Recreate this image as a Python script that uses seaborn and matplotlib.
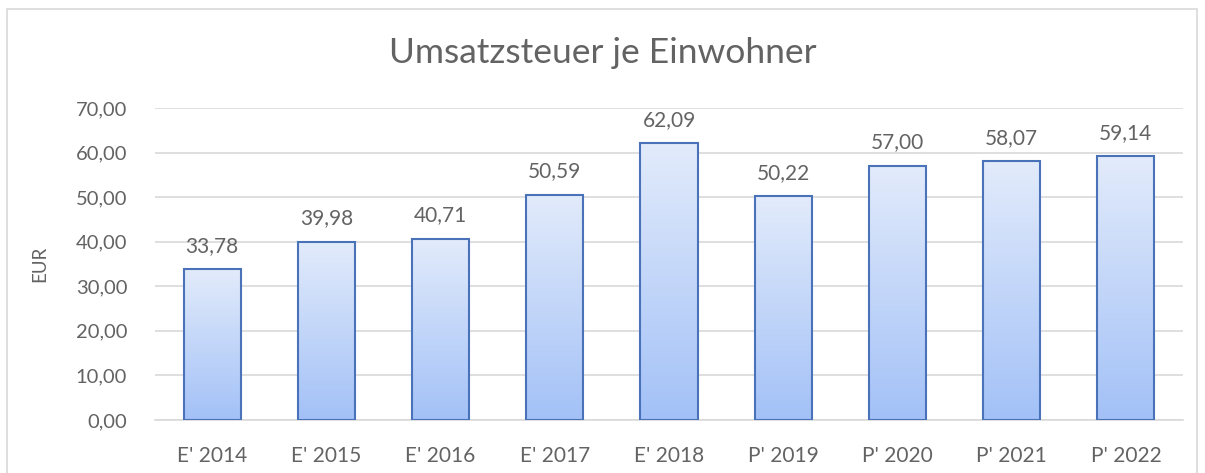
import numpy as np
import pandas as pd
import matplotlib
matplotlib.use("Agg")
import matplotlib.pyplot as plt
from matplotlib.patches import Rectangle
from matplotlib.colors import LinearSegmentedColormap
import seaborn as sns

years = ["E' 2014", "E' 2015", "E' 2016", "E' 2017", "E' 2018",
         "P' 2019", "P' 2020", "P' 2021", "P' 2022"]
values = [33.78, 39.98, 40.71, 50.59, 62.09, 50.22, 57.00, 58.07, 59.14]
yticks = [0, 10, 20, 30, 40, 50, 60, 70]

df = pd.DataFrame({"jahr": years, "eur": values})

sns.set_style("white")
plt.rcParams["font.family"] = ["Lato", "DejaVu Sans"]

grey = "#636363"
fig = plt.figure(figsize=(12.05, 4.73), dpi=100)
ax = fig.add_axes([155 / 1205, 1 - 420 / 473, (1183 - 155) / 1205, 312 / 473])

sns.barplot(data=df, x="jahr", y="eur", ax=ax, width=0.5,
            color="#c5d8f9", edgecolor="#4a72b8", linewidth=1.5, zorder=3)

# gradient fill clipped to each bar
cmap = LinearSegmentedColormap.from_list("g", ["#a3c1f7", "#e2ebfb"])
grad = np.linspace(0, 1, 256).reshape(-1, 1)
for p in ax.patches:
    x0, y0 = p.get_x(), p.get_y()
    w, h = p.get_width(), p.get_height()
    im = ax.imshow(grad, cmap=cmap, origin="lower", aspect="auto",
                   extent=[x0, x0 + w, y0, y0 + h], zorder=2.5)
    im.set_clip_path(p)
    p.set_facecolor("none")

for i, v in enumerate(values):
    ax.text(i, v + 3.0, f"{v:.2f}".replace(".", ","), ha="center", va="bottom",
            fontsize=15, color=grey)

ax.set_xlim(-0.5, len(years) - 0.5)
ax.set_ylim(0, 70)
ax.set_yticks(yticks)
ax.set_yticklabels([f"{t:.2f}".replace(".", ",") for t in yticks])
ax.yaxis.grid(True, color="#d9d9d9", linewidth=1.2, zorder=0)
ax.set_axisbelow(True)
for s in ["top", "right", "left"]:
    ax.spines[s].set_visible(False)
ax.spines["bottom"].set_color("#d9d9d9")
ax.spines["bottom"].set_linewidth(1.2)
ax.tick_params(axis="y", length=0, labelsize=14.5, colors=grey, pad=20)
ax.tick_params(axis="x", length=0, labelsize=15, colors=grey, pad=19)
ax.set_xlabel("")
ax.set_ylabel("EUR", fontsize=13.5, color=grey, labelpad=20)

fig.text(0.5, 1 - 53 / 473, "Umsatzsteuer je Einwohner", ha="center", va="center",
         fontsize=25.5, color=grey)

# chart frame
fig.patches.append(Rectangle((7 / 1205, -0.05), (1197 - 7) / 1205, 1.05 - 9 / 473,
                             transform=fig.transFigure, fill=False,
                             edgecolor="#d9d9d9", linewidth=1.2))

fig.savefig("out.png", dpi=100)
